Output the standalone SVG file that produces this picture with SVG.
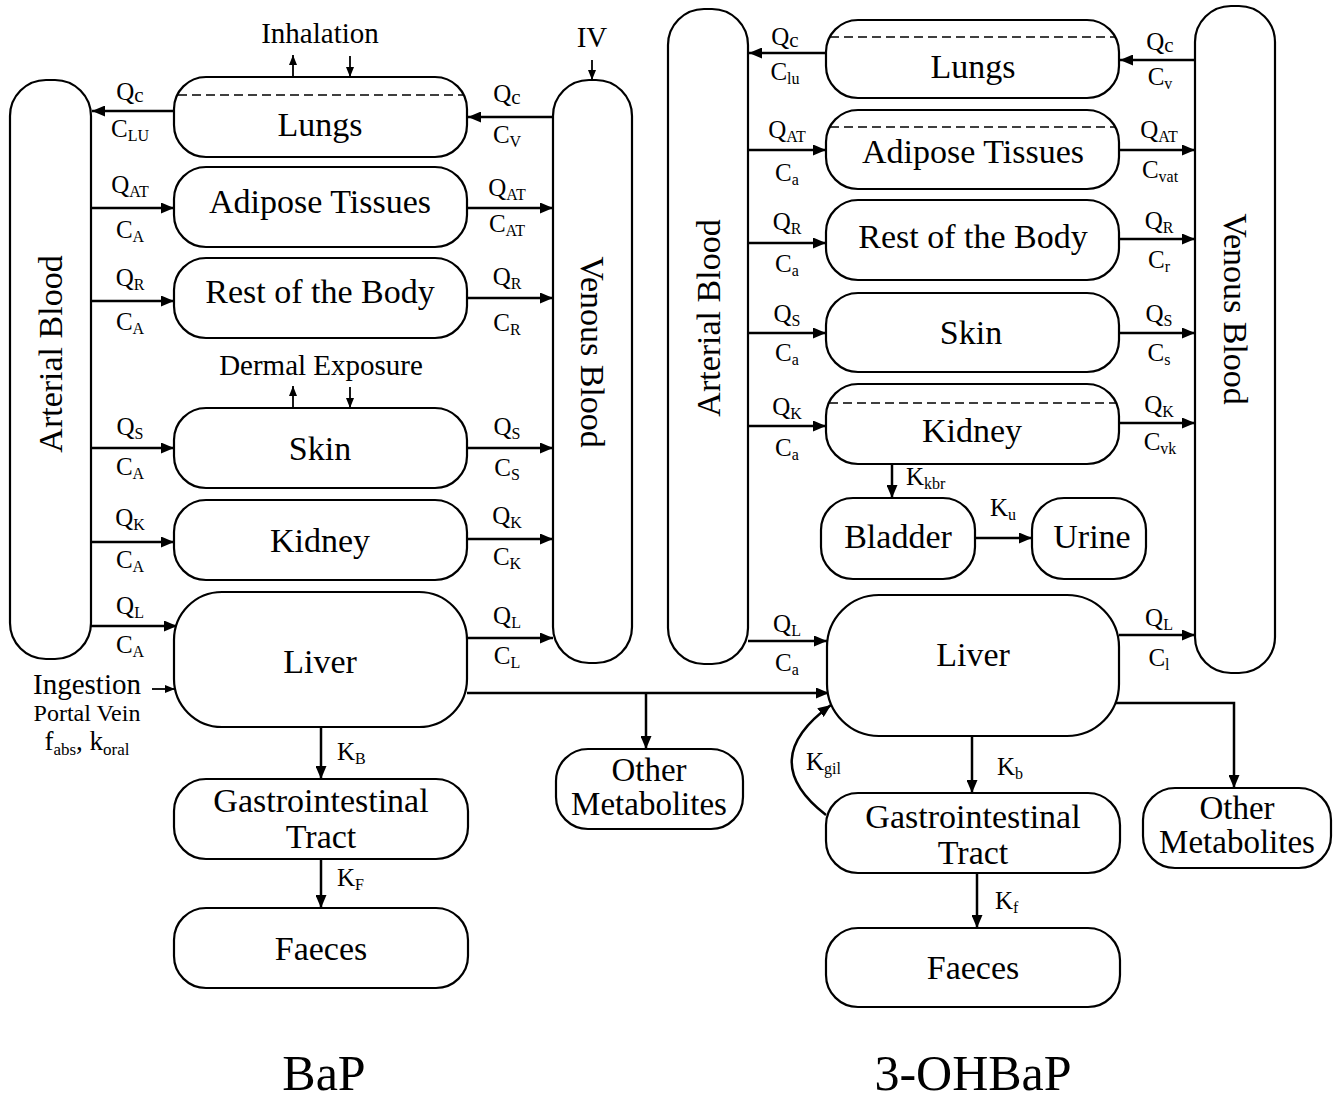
<svg xmlns="http://www.w3.org/2000/svg" width="1334" height="1102" viewBox="0 0 1334 1102">
<style>
.box{fill:#fff;stroke:#000;stroke-width:2.2}
.dash{stroke:#000;stroke-width:1.6;stroke-dasharray:9 5;fill:none}
text{font-family:"Liberation Serif","Times New Roman",serif;fill:#000}
.n{font-size:34px;text-anchor:middle}
.om{font-size:33px;text-anchor:middle}
.lb{font-size:25px;text-anchor:middle}
.k{font-size:25px}
.s{font-size:16px}
.c{font-size:21px}
.ex{font-size:29px;text-anchor:middle}
.ttl{font-size:50px;text-anchor:middle}
.ar{stroke:#000;stroke-width:2.5;fill:none;marker-end:url(#ah)}
.ar2{stroke:#000;stroke-width:1.8;fill:none;marker-end:url(#ah2)}
</style>
<defs>
<marker id="ah" viewBox="0 0 13 11" refX="13" refY="5.5" markerUnits="userSpaceOnUse" markerWidth="13" markerHeight="11" orient="auto"><path d="M0,0 L13,5.5 L0,11 z" fill="#000"/></marker>
<marker id="ah2" viewBox="0 0 10 8" refX="10" refY="4" markerUnits="userSpaceOnUse" markerWidth="10" markerHeight="8" orient="auto"><path d="M0,0 L10,4 L0,8 z" fill="#000"/></marker>
</defs>
<rect width="1334" height="1102" fill="#fff"/>

<g id="connectors">
<path class="ar" d="M174,111 H92"/>
<path class="ar" d="M553,117 H468"/>
<path class="ar" d="M91,208 H174"/>
<path class="ar" d="M467,208 H553"/>
<path class="ar" d="M91,301 H174"/>
<path class="ar" d="M467,298 H553"/>
<path class="ar" d="M91,448 H174"/>
<path class="ar" d="M467,448 H553"/>
<path class="ar" d="M91,542 H174"/>
<path class="ar" d="M467,539 H553"/>
<path class="ar" d="M91,626 H177"/>
<path class="ar" d="M467,638 H553"/>
<path class="ar2" d="M152,689 H175"/>
<path class="ar" d="M321,727 V779"/>
<path class="ar" d="M321,859 V908"/>
<path class="ar" d="M467,693 H829"/>
<path class="ar" d="M646,693 V749"/>
<path class="ar2" d="M293,77 V55"/>
<path class="ar2" d="M350,56 V77"/>
<path class="ar2" d="M592,60 V80"/>
<path class="ar2" d="M293,408 V386"/>
<path class="ar2" d="M350,387 V408"/>
<path class="ar" d="M826,53 H749"/>
<path class="ar" d="M1195,60 H1120"/>
<path class="ar" d="M748,150 H826"/>
<path class="ar" d="M1119,150 H1195"/>
<path class="ar" d="M748,243 H826"/>
<path class="ar" d="M1119,239 H1195"/>
<path class="ar" d="M748,333 H826"/>
<path class="ar" d="M1119,333 H1195"/>
<path class="ar" d="M748,426 H826"/>
<path class="ar" d="M1119,423 H1195"/>
<path class="ar" d="M748,641 H827"/>
<path class="ar" d="M1119,635 H1195"/>
<path class="ar" d="M892,464 V498"/>
<path class="ar" d="M975,538 H1032"/>
<path class="ar" d="M972,736 V793"/>
<path class="ar" d="M977,873 V928"/>
<path class="ar" d="M1115,703 H1234 V788"/>
<path class="ar" d="M826,815 Q755,760 831,705"/>
</g>

<g id="arterialL"><rect class="box" x="10" y="80" width="81" height="579" rx="36"/>
<text class="n" transform="translate(62,354) rotate(-90)">Arterial Blood</text></g>
<g id="venousL"><rect class="box" x="553" y="80" width="79" height="583" rx="36"/>
<text class="n" transform="translate(581,352) rotate(90)">Venous Blood</text></g>
<g id="lungsL"><rect class="box" x="174" y="77" width="293" height="80" rx="32"/>
<line class="dash" x1="178" y1="95" x2="463" y2="95"/>
<text class="n" x="320" y="136">Lungs</text></g>
<g id="adiposeL"><rect class="box" x="174" y="167" width="293" height="80" rx="32"/>
<text class="n" x="320" y="213">Adipose Tissues</text></g>
<g id="restL"><rect class="box" x="174" y="258" width="293" height="80" rx="32"/>
<text class="n" x="320" y="303">Rest of the Body</text></g>
<g id="skinL"><rect class="box" x="174" y="408" width="293" height="80" rx="32"/>
<text class="n" x="320" y="460">Skin</text></g>
<g id="kidneyL"><rect class="box" x="174" y="500" width="293" height="80" rx="32"/>
<text class="n" x="320" y="552">Kidney</text></g>
<g id="liverL"><rect class="box" x="174" y="592" width="293" height="135" rx="48"/>
<text class="n" x="320" y="673">Liver</text></g>
<g id="giL"><rect class="box" x="174" y="779" width="294" height="80" rx="32"/>
<text class="n" x="321" y="812">Gastrointestinal</text>
<text class="n" x="321" y="848">Tract</text></g>
<g id="faecesL"><rect class="box" x="174" y="908" width="294" height="80" rx="32"/>
<text class="n" x="321" y="960">Faeces</text></g>
<g id="otherL"><rect class="box" x="556" y="749" width="187" height="80" rx="32"/>
<text class="om" x="649" y="781">Other</text>
<text class="om" x="649" y="815">Metabolites</text></g>

<g id="labelsL">
<text class="ex" x="320" y="43">Inhalation</text>
<text class="ex" x="592" y="47">IV</text>
<text class="ex" x="321" y="375">Dermal Exposure</text>
<text class="ex" x="87" y="694">Ingestion</text>
<text x="87" y="721" style="font-size:24px;text-anchor:middle">Portal Vein</text>
<text x="87" y="750" style="font-size:27px;text-anchor:middle">f<tspan font-size="17" dy="5">abs</tspan><tspan dy="-5">, k</tspan><tspan font-size="17" dy="5">oral</tspan></text>

<text class="lb" x="130" y="100">Q<tspan class="c" dy="2">c</tspan></text>
<text class="lb" x="130" y="137">C<tspan class="s" dy="4">LU</tspan></text>
<text class="lb" x="507" y="102">Q<tspan class="c" dy="2">c</tspan></text>
<text class="lb" x="507" y="143">C<tspan class="s" dy="4">V</tspan></text>
<text class="lb" x="130" y="193">Q<tspan class="s" dy="4">AT</tspan></text>
<text class="lb" x="130" y="238">C<tspan class="s" dy="4">A</tspan></text>
<text class="lb" x="507" y="196">Q<tspan class="s" dy="4">AT</tspan></text>
<text class="lb" x="507" y="232">C<tspan class="s" dy="4">AT</tspan></text>
<text class="lb" x="130" y="286">Q<tspan class="s" dy="4">R</tspan></text>
<text class="lb" x="130" y="330">C<tspan class="s" dy="4">A</tspan></text>
<text class="lb" x="507" y="285">Q<tspan class="s" dy="4">R</tspan></text>
<text class="lb" x="507" y="331">C<tspan class="s" dy="4">R</tspan></text>
<text class="lb" x="130" y="435">Q<tspan class="s" dy="4">S</tspan></text>
<text class="lb" x="130" y="475">C<tspan class="s" dy="4">A</tspan></text>
<text class="lb" x="507" y="435">Q<tspan class="s" dy="4">S</tspan></text>
<text class="lb" x="507" y="476">C<tspan class="s" dy="4">S</tspan></text>
<text class="lb" x="130" y="526">Q<tspan class="s" dy="4">K</tspan></text>
<text class="lb" x="130" y="568">C<tspan class="s" dy="4">A</tspan></text>
<text class="lb" x="507" y="524">Q<tspan class="s" dy="4">K</tspan></text>
<text class="lb" x="507" y="565">C<tspan class="s" dy="4">K</tspan></text>
<text class="lb" x="130" y="614">Q<tspan class="s" dy="4">L</tspan></text>
<text class="lb" x="130" y="653">C<tspan class="s" dy="4">A</tspan></text>
<text class="lb" x="507" y="624">Q<tspan class="s" dy="4">L</tspan></text>
<text class="lb" x="507" y="664">C<tspan class="s" dy="4">L</tspan></text>
<text class="k" x="337" y="760">K<tspan class="s" dy="4">B</tspan></text>
<text class="k" x="337" y="886">K<tspan class="s" dy="4">F</tspan></text>
<text class="ttl" x="324" y="1090">BaP</text>
</g>

<g id="arterialR"><rect class="box" x="668" y="9" width="80" height="655" rx="36"/>
<text class="n" transform="translate(720,318) rotate(-90)">Arterial Blood</text></g>
<g id="venousR"><rect class="box" x="1195" y="6" width="80" height="667" rx="36"/>
<text class="n" transform="translate(1224,309) rotate(90)">Venous Blood</text></g>
<g id="lungsR"><rect class="box" x="826" y="20" width="293" height="78" rx="32"/>
<line class="dash" x1="830" y1="37" x2="1115" y2="37"/>
<text class="n" x="973" y="78">Lungs</text></g>
<g id="adiposeR"><rect class="box" x="826" y="110" width="293" height="79" rx="32"/>
<line class="dash" x1="830" y1="127" x2="1115" y2="127"/>
<text class="n" x="973" y="163">Adipose Tissues</text></g>
<g id="restR"><rect class="box" x="826" y="200" width="293" height="80" rx="32"/>
<text class="n" x="973" y="248">Rest of the Body</text></g>
<g id="skinR"><rect class="box" x="826" y="293" width="293" height="79" rx="32"/>
<text class="n" x="971" y="344">Skin</text></g>
<g id="kidneyR"><rect class="box" x="826" y="384" width="293" height="80" rx="32"/>
<line class="dash" x1="829" y1="403" x2="1116" y2="403"/>
<text class="n" x="972" y="442">Kidney</text></g>
<g id="bladder"><rect class="box" x="821" y="498" width="154" height="81" rx="32"/>
<text class="n" x="898" y="548">Bladder</text></g>
<g id="urine"><rect class="box" x="1032" y="498" width="114" height="81" rx="32"/>
<text class="n" x="1092" y="548">Urine</text></g>
<g id="liverR"><rect class="box" x="827" y="595" width="292" height="141" rx="52"/>
<text class="n" x="973" y="666">Liver</text></g>
<g id="giR"><rect class="box" x="826" y="793" width="294" height="80" rx="32"/>
<text class="n" x="973" y="828">Gastrointestinal</text>
<text class="n" x="973" y="864">Tract</text></g>
<g id="faecesR"><rect class="box" x="826" y="928" width="294" height="79" rx="32"/>
<text class="n" x="973" y="979">Faeces</text></g>
<g id="otherR"><rect class="box" x="1143" y="788" width="188" height="80" rx="32"/>
<text class="om" x="1237" y="819">Other</text>
<text class="om" x="1237" y="853">Metabolites</text></g>

<g id="labelsR">
<text class="lb" x="785" y="45">Q<tspan class="c" dy="2">c</tspan></text>
<text class="lb" x="785" y="80">C<tspan class="s" dy="4">lu</tspan></text>
<text class="lb" x="1160" y="50">Q<tspan class="c" dy="2">c</tspan></text>
<text class="lb" x="1160" y="85">C<tspan class="s" dy="4">v</tspan></text>
<text class="lb" x="787" y="138">Q<tspan class="s" dy="4">AT</tspan></text>
<text class="lb" x="787" y="181">C<tspan class="s" dy="4">a</tspan></text>
<text class="lb" x="1159" y="138">Q<tspan class="s" dy="4">AT</tspan></text>
<text class="lb" x="1160" y="178">C<tspan class="s" dy="4">vat</tspan></text>
<text class="lb" x="787" y="230">Q<tspan class="s" dy="4">R</tspan></text>
<text class="lb" x="787" y="272">C<tspan class="s" dy="4">a</tspan></text>
<text class="lb" x="1159" y="229">Q<tspan class="s" dy="4">R</tspan></text>
<text class="lb" x="1159" y="268">C<tspan class="s" dy="4">r</tspan></text>
<text class="lb" x="787" y="322">Q<tspan class="s" dy="4">S</tspan></text>
<text class="lb" x="787" y="361">C<tspan class="s" dy="4">a</tspan></text>
<text class="lb" x="1159" y="322">Q<tspan class="s" dy="4">S</tspan></text>
<text class="lb" x="1159" y="361">C<tspan class="s" dy="4">s</tspan></text>
<text class="lb" x="787" y="415">Q<tspan class="s" dy="4">K</tspan></text>
<text class="lb" x="787" y="456">C<tspan class="s" dy="4">a</tspan></text>
<text class="lb" x="1159" y="413">Q<tspan class="s" dy="4">K</tspan></text>
<text class="lb" x="1160" y="450">C<tspan class="s" dy="4">vk</tspan></text>
<text class="lb" x="787" y="632">Q<tspan class="s" dy="4">L</tspan></text>
<text class="lb" x="787" y="671">C<tspan class="s" dy="4">a</tspan></text>
<text class="lb" x="1159" y="626">Q<tspan class="s" dy="4">L</tspan></text>
<text class="lb" x="1159" y="666">C<tspan class="s" dy="4">l</tspan></text>
<text class="k" x="906" y="485">K<tspan class="s" dy="4">kbr</tspan></text>
<text class="k" x="990" y="516">K<tspan class="s" dy="4">u</tspan></text>
<text class="k" x="997" y="775">K<tspan class="s" dy="4">b</tspan></text>
<text class="k" x="995" y="909">K<tspan class="s" dy="4">f</tspan></text>
<text class="k" x="806" y="770">K<tspan class="s" dy="4">gil</tspan></text>
<text class="ttl" x="973" y="1090">3-OHBaP</text>
</g>
</svg>
